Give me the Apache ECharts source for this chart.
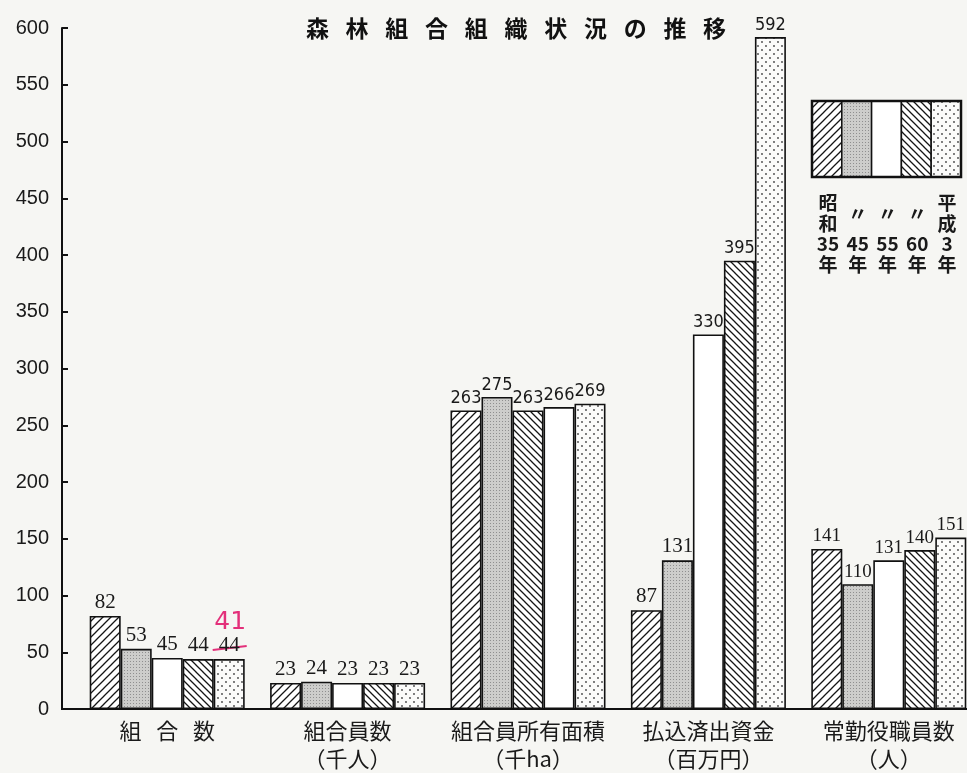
<!DOCTYPE html>
<html><head><meta charset="utf-8">
<script src="https://cdn.jsdelivr.net/npm/echarts@6/dist/echarts.min.js"></script>
<style>html,body{margin:0;padding:0;background:#f6f6f3}#c{width:967px;height:773px}</style>
</head><body><div id="c"></div>
<script>
// ---- data ----
const titleText = '森林組合組織状況の推移';
const categories = ['組   合   数', '組合員数\n（千人）', '組合員所有面積\n（千ha）', '払込済出資金\n（百万円）', '常勤役職員数\n（人）'];
const seriesNames = ['昭和35年', '昭和45年', '昭和55年', '昭和60年', '平成3年'];
const legendLabels = [['昭','和','35','年'], ['','〃','45','年'], ['','〃','55','年'], ['','〃','60','年'], ['平','成','3','年']];
const valS35 = [82, 23, 263, 87, 141];
const valS45 = [53, 24, 275, 131, 110];
const valS55 = [45, 23, 263, 330, 131];
const valS60 = [44, 23, 266, 395, 140];
const valH3  = [44, 23, 269, 592, 151];
const handCorrection = '41'; // red handwritten correction over 平成3年 組合数
const yMin = 0, yMax = 600, yStep = 50;

// ---- patterns ----
function mk(size){const c=document.createElement('canvas');c.width=c.height=size;return c;}
function hatch(dir,size,lw){
  const c=mk(size),g=c.getContext('2d');
  g.fillStyle='#fff';g.fillRect(0,0,size,size);
  g.strokeStyle='#151515';g.lineWidth=lw;g.beginPath();
  if(dir>0){
    g.moveTo(-size,size*2);g.lineTo(size*2,-size);
    g.moveTo(-size,size);g.lineTo(size,-size);
    g.moveTo(0,size*2);g.lineTo(size*2,0);
  } else {
    g.moveTo(-size,-size);g.lineTo(size*2,size*2);
    g.moveTo(-size,0);g.lineTo(size,size*2);
    g.moveTo(0,-size);g.lineTo(size*2,size);
  }
  g.stroke();return c;
}
function grayDots(){
  const c=mk(3),g=c.getContext('2d');
  g.fillStyle='#cdcdcb';g.fillRect(0,0,3,3);
  g.fillStyle='#8f8f8f';g.fillRect(1,1,1,1);
  return c;
}
function lightDots(){
  const c=mk(8),g=c.getContext('2d');
  g.fillStyle='#fbfbfa';g.fillRect(0,0,8,8);
  g.fillStyle='#444';
  g.beginPath();g.arc(2,2,0.9,0,Math.PI*2);g.fill();
  g.beginPath();g.arc(6,6,0.9,0,Math.PI*2);g.fill();
  return c;
}
const fills = [
  {image: hatch(1,8,1.3), repeat:'repeat'},
  {image: grayDots(), repeat:'repeat'},
  '#ffffff',
  {image: hatch(-1,7,1.3), repeat:'repeat'},
  {image: lightDots(), repeat:'repeat'}
];

const serif = "'Liberation Serif','DejaVu Serif',serif";
const narrow = "'Liberation Sans Narrow','DejaVu Sans Condensed','Liberation Sans',sans-serif";
const cjk = "'Noto Sans CJK JP','Noto Sans CJK SC',sans-serif";

function labelFor(ci, v){
  if (ci <= 1) return {fontFamily: serif, fontSize: 21};
  if (ci === 2) return {fontFamily: narrow, fontSize: 18};
  if (ci === 3) return v < 200 ? {fontFamily: serif, fontSize: 21} : {fontFamily: narrow, fontSize: 18};
  return {fontFamily: serif, fontSize: 19};
}

const allVals = [valS35, valS45, valS55, valS60, valH3];
// In the printed chart, the 55年 and 60年 patterns are swapped in the 面積 group.
function fillFor(si, ci){
  if (ci === 2 && si === 2) return fills[3];
  if (ci === 2 && si === 3) return fills[2];
  return fills[si];
}

const series = allVals.map((vals, si) => ({
  name: seriesNames[si],
  type: 'bar',
  barWidth: 31,
  barGap: '0%',
  data: vals.map((v, ci) => {
    const item = {
      value: v,
      itemStyle: {color: fillFor(si, ci), borderColor: '#111', borderWidth: 1.6},
      label: Object.assign({show: true, position: 'top', distance: 3, color: '#1a1a1a'}, labelFor(ci, v))
    };
    if (si === 4 && ci === 0) {
      item.label.formatter = '{r|' + handCorrection + '}\n{v|{c}}';
      item.label.rich = {
        r: {color: '#e3307a', fontSize: 25, fontFamily: "'DejaVu Sans'", lineHeight: 25, padding: [0, 0, 0, 2]},
        v: {fontFamily: serif, fontSize: 21, color: '#1a1a1a', lineHeight: 21}
      };
    }
    return item;
  })
}));

// ---- legend graphic ----
const lgX = 812, lgY = 101, lgW = 29.8, lgH = 76;
const legendEls = [];
fills.forEach((f, i) => {
  legendEls.push({type: 'rect', shape: {x: lgX + i*lgW, y: lgY, width: lgW, height: lgH},
    style: {fill: f, stroke: '#111', lineWidth: 1.5}});
});
legendEls.push({type: 'rect', shape: {x: lgX, y: lgY, width: lgW*5, height: lgH},
  style: {fill: 'none', stroke: '#111', lineWidth: 2.5}});
legendLabels.forEach((lines, i) => {
  lines.forEach((t, r) => {
    if (!t) return;
    let y = 203 + r*20.5;
    if (t === '〃') y = 214;
    legendEls.push({type: 'text', x: lgX + i*lgW + lgW/2 + 1, y: y,
      style: {text: t, fill: '#1a1a1a', font: 'bold 19px ' + cjk, align: 'center', verticalAlign: 'middle'}});
  });
});
const axisStub = {type: 'line', shape: {x1: 61, y1: 709, x2: 78, y2: 709}, style: {stroke: '#111', lineWidth: 2}};

const chart = echarts.init(document.getElementById('c'), null, {renderer: 'canvas'});
chart.setOption({
  backgroundColor: '#f6f6f3',
  animation: false,
  title: {text: titleText.split('').join('\u2002 '), left: 511, top: 12, textAlign: 'center',
    textStyle: {fontFamily: cjk, fontSize: 23, fontWeight: 'bold', color: '#111'}},
  grid: {left: 77, width: 902, top: 28, bottom: 64, containLabel: false, outerBoundsMode: 'none'},
  xAxis: {
    type: 'category', data: categories,
    axisLine: {lineStyle: {color: '#111', width: 2}},
    axisTick: {show: false},
    axisLabel: {color: '#1a1a1a', fontFamily: cjk, fontSize: 22, lineHeight: 28, margin: 8, interval: 0}
  },
  yAxis: {
    type: 'value', min: yMin, max: yMax, interval: yStep, offset: 15,
    axisLine: {show: true, lineStyle: {color: '#111', width: 2}},
    axisTick: {show: true, inside: true, length: 6, lineStyle: {color: '#111', width: 2}},
    splitLine: {show: false},
    axisLabel: {color: '#1a1a1a', fontFamily: "'Liberation Sans','Arial',sans-serif", fontSize: 20, margin: 13}
  },
  series: series,
  graphic: legendEls.concat([axisStub])
});

// red strike through the printed value of the corrected bar
try {
  const lay = chart.getModel().getSeriesByIndex(4).getData().getItemLayout(0);
  const top = Math.min(lay.y, lay.y + lay.height);
  chart.setOption({graphic: legendEls.concat([axisStub,
    {type: 'line', shape: {x1: lay.x - 1, y1: top - 9, x2: lay.x + lay.width + 2, y2: top - 13},
      style: {stroke: '#e3307a', lineWidth: 2}}
  ])});
} catch (e) {}
</script>
</body></html>
